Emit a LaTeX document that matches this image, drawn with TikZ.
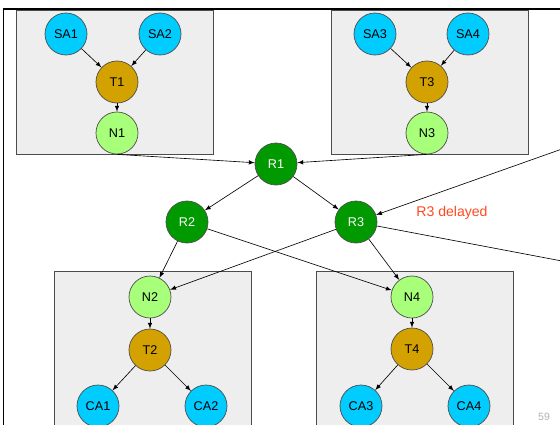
\documentclass[tikz,border=0pt]{standalone}
\usepackage{fontspec}
\setmainfont{Liberation Sans}
\definecolor{endcyan}{RGB}{0,204,255}
\definecolor{tgold}{RGB}{212,162,0}
\definecolor{nlight}{RGB}{168,255,122}
\definecolor{rgreen}{RGB}{0,154,0}
\definecolor{grpgray}{RGB}{238,238,238}
\definecolor{delayred}{RGB}{255,72,32}
\begin{document}
\begin{tikzpicture}[x=0.025cm, y=-0.025cm]
\tikzset{ >=latex,
  ball/.style={circle, draw=black!70, line width=0.5pt, minimum size=1.05cm, inner sep=0pt, font=\fontsize{9}{10}\selectfont},
  endp/.style={ball, fill=endcyan},
  tnode/.style={ball, fill=tgold},
  nnode/.style={ball, fill=nlight},
  rnode/.style={ball, fill=rgreen, text=white},
  grp/.style={fill=grpgray, draw=black!70, line width=0.6pt},
  edge/.style={line width=0.45pt, black},
}

\useasboundingbox (0,0) rectangle (560,424);

% slide frame
\draw[line width=1.4pt] (3.5,426) -- (3.5,9) -- (562,9);

%%% Groups
\draw[grp] (16,10) rectangle (213,154);
\draw[grp] (331,10) rectangle (528,154);
\draw[grp] (54,271) rectangle (251,430);
\draw[grp] (316,271) rectangle (513,430);

%%% Sources
\node[endp] (SA1) at (66,34) {SA1};
\node[endp] (SA2) at (160,34) {SA2};
\node[tnode] (T1) at (117,82) {T1};
\node[nnode] (N1) at (117,133) {N1};

\node[endp] (SA3) at (375,34) {SA3};
\node[endp] (SA4) at (468,34) {SA4};
\node[tnode] (T3) at (427,82) {T3};
\node[nnode] (N3) at (427,133) {N3};

%%% Routers
\node[rnode] (R1) at (276,164) {R1};
\node[rnode] (R2) at (187,222) {R2};
\node[rnode] (R3) at (356,222) {R3};
\node[text=delayred, font=\fontsize{10}{12}\selectfont] (dly) at (452,213) {R3 delayed};

%%% Sinks
\node[nnode] (N2) at (150,297) {N2};
\node[tnode] (T2) at (150,350) {T2};
\node[endp] (CA1) at (98,406) {CA1};
\node[endp] (CA2) at (206,406) {CA2};

\node[nnode] (N4) at (412,297) {N4};
\node[tnode] (T4) at (412,349) {T4};
\node[endp] (CA3) at (361,406) {CA3};
\node[endp] (CA4) at (469,406) {CA4};

% links leaving the slide
\coordinate (inR3) at (562,149);
\coordinate (outR3) at (562,261);

%%% Lines
\draw[->, edge] (SA1) -- (T1);
\draw[->, edge] (SA2) -- (T1);
\draw[->, edge] (T1) -- (N1);
\draw[->, edge] (SA3) -- (T3);
\draw[->, edge] (SA4) -- (T3);
\draw[->, edge] (T3) -- (N3);

\draw[->, edge] (N1.south) -- (R1);
\draw[->, edge] (N3.south) -- (R1);
\draw[->, edge] (R1) -- (R2);
\draw[->, edge] (R1) -- (R3);
\draw[->, edge] (inR3) -- (R3);
\draw[edge] (R3) -- (outR3);

\draw[->, edge] (R2) -- (N2);
\draw[->, edge] (R2) -- (N4);
\draw[->, edge] (R3) -- (N2);
\draw[->, edge] (R3) -- (N4);

\draw[->, edge] (N2) -- (T2);
\draw[->, edge] (T2) -- (CA1);
\draw[->, edge] (T2) -- (CA2);
\draw[->, edge] (N4) -- (T4);
\draw[->, edge] (T4) -- (CA3);
\draw[->, edge] (T4) -- (CA4);

\node[text=black!30, font=\fontsize{7.5}{9}\selectfont] (pg) at (544,417) {59};

\end{tikzpicture}
\end{document}
